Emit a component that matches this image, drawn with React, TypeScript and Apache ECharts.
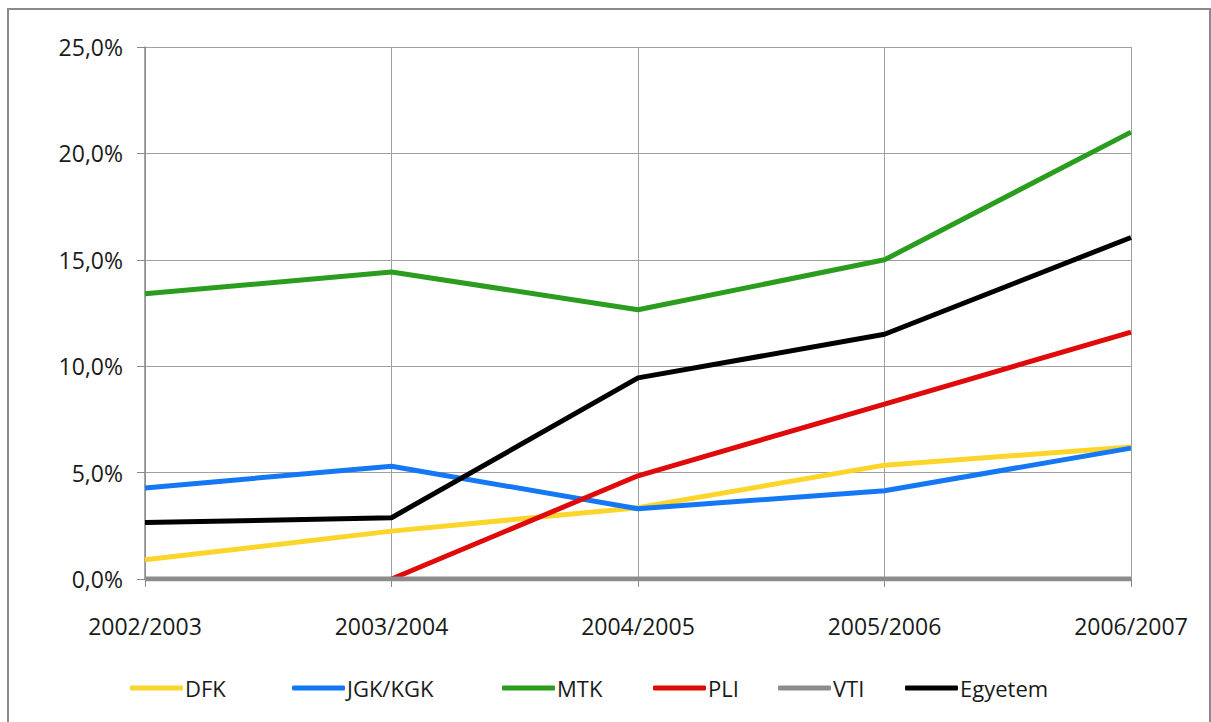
import React, { useEffect, useRef } from "react";
import * as echarts from "echarts";

const categories = ["2002/2003", "2003/2004", "2004/2005", "2005/2006", "2006/2007"];
const seriesNames = ["DFK", "JGK/KGK", "MTK", "PLI", "VTI", "Egyetem"];
const dfk = [0.9, 2.25, 3.35, 5.35, 6.2];
const jgk = [4.28, 5.3, 3.3, 4.15, 6.15];
const mtk = [13.4, 14.43, 12.65, 15.0, 21.0];
const pli: (number | null)[] = [null, 0, 4.85, 8.22, 11.6];
const vti = [0, 0, 0, 0, 0];
const egyetem = [2.65, 2.88, 9.45, 11.5, 16.05];
const yTicks = { min: 0, max: 25, interval: 5 };

const colors = ["#fcd52a", "#1478f5", "#2a9d1e", "#e00a0a", "#8c8c8c", "#000000"];
const legendLefts = [130, 292, 502, 653, 778, 905];

const FONT = "'Open Sans', 'DejaVu Sans', sans-serif";

export default function App() {
  const ref = useRef<HTMLDivElement>(null);
  useEffect(() => {
    if (!ref.current) return;
    const chart = echarts.init(ref.current, null, { renderer: "svg" });
    const datas = [dfk, jgk, mtk, pli, vti, egyetem];
    chart.setOption({
      animation: false,
      backgroundColor: "#ffffff",
      textStyle: { fontFamily: FONT },
      graphic: [
        {
          type: "rect",
          shape: { x: 8, y: 9, width: 1202, height: 730 },
          style: { fill: "none", stroke: "#8a8a8a", lineWidth: 2 },
          silent: true,
        },
      ],
      grid: { left: 145, right: 80, top: 47, bottom: 143, containLabel: false },
      legend: seriesNames.map((n, i) => ({
        left: legendLefts[i],
        top: 677,
        padding: 0,
        icon: "roundRect",
        itemWidth: 53,
        itemHeight: 5,
        itemGap: 0,
        textStyle: { fontFamily: FONT, fontSize: 22, color: "#1a1a1a", padding: [0, 0, 0, -3] },
        data: [n],
      })),
      xAxis: {
        type: "category",
        data: categories,
        boundaryGap: false,
        axisLine: { show: true, lineStyle: { color: "#8a8a8a", width: 1 } },
        axisTick: { show: true, length: 8, lineStyle: { color: "#8a8a8a" } },
        axisLabel: { fontFamily: FONT, fontSize: 23, color: "#1a1a1a", margin: 35, interval: 0 },
        splitLine: { show: true, lineStyle: { color: "#a0a0a0", width: 1 } },
      },
      yAxis: {
        type: "value",
        min: yTicks.min,
        max: yTicks.max,
        interval: yTicks.interval,
        axisLine: { show: true, lineStyle: { color: "#8a8a8a", width: 1.5 } },
        axisTick: { show: true, length: 8, lineStyle: { color: "#8a8a8a" } },
        axisLabel: {
          fontFamily: FONT,
          fontSize: 23,
          color: "#1a1a1a",
          margin: 22,
          formatter: (v: number) => v.toFixed(1).replace(".", ",") + "%",
        },
        splitLine: { show: true, lineStyle: { color: "#a0a0a0", width: 1 } },
      },
      series: seriesNames.map((n, i) => ({
        name: n,
        type: "line",
        data: datas[i],
        symbol: "none",
        showSymbol: false,
        connectNulls: false,
        lineStyle: { color: colors[i], width: 5 },
        itemStyle: { color: colors[i] },
      })),
    });
    return () => chart.dispose();
  }, []);
  return (
    <div
      ref={ref}
      style={{ position: "fixed", left: 0, top: 0, width: 1211, height: 722, background: "#fff" }}
    />
  );
}
